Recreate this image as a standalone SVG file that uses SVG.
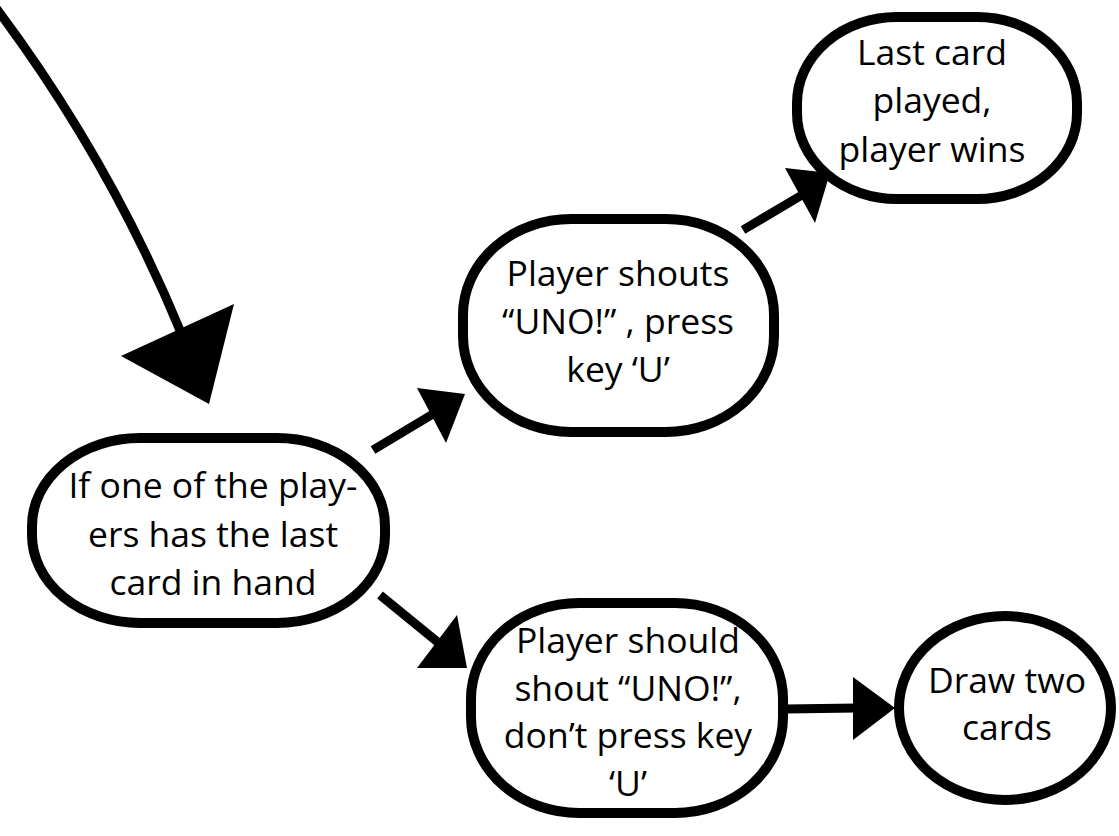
<svg xmlns="http://www.w3.org/2000/svg" width="1119" height="836" viewBox="0 0 1119 836">
<style>
.node{fill:#fff;stroke:#000;stroke-width:10}
.t{font-family:"Open Sans","Noto Sans","Liberation Sans",sans-serif;font-size:35.5px;fill:#000;text-anchor:middle}
.ln{fill:none;stroke:#000;stroke-width:9}
.hd{fill:#000;stroke:none}
</style>
<rect width="1119" height="836" fill="#fff"/>
<g id="connectors">
<path class="ln" d="M -4,8 Q 110,160 182,335"/>
<polygon class="hd" points="121,356 234,304 209,404"/>
<line class="ln" x1="373" y1="450" x2="433" y2="414"/>
<polygon class="hd" points="417,388 465,394 446,443"/>
<line class="ln" x1="380" y1="595" x2="440" y2="644"/>
<polygon class="hd" points="457,615 417,668 467,668"/>
<line class="ln" x1="743" y1="230" x2="802" y2="195"/>
<polygon class="hd" points="785,168 830,173 815,223"/>
<line class="ln" x1="786" y1="709" x2="856" y2="708"/>
<polygon class="hd" points="853,677 853,740 895,708"/>
</g>
<g id="n-last-card-in-hand">
<rect class="node" x="32" y="438" width="353" height="185" rx="108" ry="88"/>
<text class="t" x="213" y="498">If one of the play-</text>
<text class="t" x="213" y="547">ers has the last</text>
<text class="t" x="213" y="595">card in hand</text>
</g>
<g id="n-shout-press">
<rect class="node" x="463" y="219" width="311" height="213" rx="108" ry="96"/>
<text class="t" x="618" y="286">Player shouts</text>
<text class="t" x="618" y="334">“UNO!” , press</text>
<text class="t" x="618" y="382">key ‘U’</text>
</g>
<g id="n-player-wins">
<rect class="node" x="797" y="17" width="280" height="182" rx="100" ry="86"/>
<text class="t" x="932" y="65">Last card</text>
<text class="t" x="932" y="113">played,</text>
<text class="t" x="932" y="162">player wins</text>
</g>
<g id="n-shout-no-press">
<rect class="node" x="471" y="603" width="312" height="210" rx="108" ry="96"/>
<text class="t" x="628" y="653">Player should</text>
<text class="t" x="628" y="701">shout “UNO!”,</text>
<text class="t" x="628" y="748">don’t press key</text>
<text class="t" x="628" y="796">‘U’</text>
</g>
<g id="n-draw-two">
<ellipse class="node" cx="1005" cy="708" rx="106" ry="92"/>
<text class="t" x="1007" y="693">Draw two</text>
<text class="t" x="1007" y="740">cards</text>
</g>
</svg>
